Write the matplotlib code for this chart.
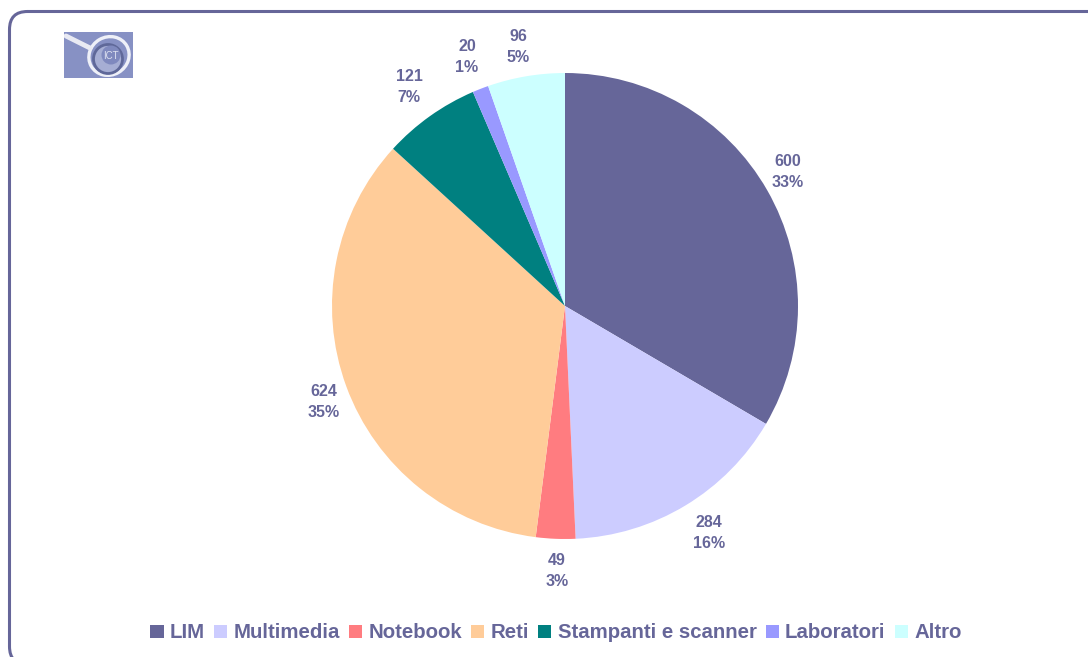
#!/usr/bin/env python3
import matplotlib

matplotlib.use("Agg")
import matplotlib.pyplot as plt
from matplotlib.patches import Ellipse, FancyBboxPatch, Rectangle

categories = ["LIM", "Multimedia", "Notebook", "Reti", "Stampanti e scanner", "Laboratori", "Altro"]
values = [600, 284, 49, 624, 121, 20, 96]
percents = ["33%", "16%", "3%", "35%", "7%", "1%", "5%"]
colors = ["#666699", "#CCCCFF", "#FF7C80", "#FFCC99", "#008080", "#9999FF", "#CCFFFF"]

W, H = 1088, 657
TEXT = "#666699"
# label centres in pixels of the image
label_xy = [(788, 172), (709, 533), (557, 571), (324, 402), (409, 87), (467, 57), (518, 47)]

plt.rcParams["font.family"] = ["Liberation Sans", "DejaVu Sans"]
plt.rcParams["font.weight"] = "bold"

fig = plt.figure(figsize=(W / 100, H / 100), dpi=100)

# whole figure in pixel coords, for the frame and the labels
bg = fig.add_axes([0, 0, 1, 1])
bg.set_xlim(0, W)
bg.set_ylim(H, 0)
bg.axis("off")
bg.add_patch(FancyBboxPatch((9.5, 11.5), 1200, 653, boxstyle="round,pad=0,rounding_size=18",
                            fc="white", ec=TEXT, lw=2.2, clip_on=True))

# pie
cx, cy, r = 565, 306, 233
ax = fig.add_axes([(cx - r) / W, 1 - (cy + r) / H, 2 * r / W, 2 * r / H])
wedges, _ = ax.pie(values, colors=colors, startangle=90, counterclock=False, radius=1)
ax.set_xlim(-1, 1)
ax.set_ylim(-1, 1)

top = fig.add_axes([0, 0, 1, 1])
top.set_xlim(0, W)
top.set_ylim(H, 0)
top.axis("off")
top.patch.set_alpha(0)
for v, p, (x, y) in zip(values, percents, label_xy):
    top.text(x, y, f"{v}\n{p}", ha="center", va="center", color=TEXT, fontsize=11.5, linespacing=1.5)

# logo
logo = fig.add_axes([64 / W, 1 - 78 / H, 69 / W, 46 / H])
logo.set_xlim(64, 133)
logo.set_ylim(78, 32)
logo.axis("off")
logo.add_patch(Rectangle((64, 32), 69, 46, fc="#8791C4", ec="none"))
logo.plot([66, 90], [36, 48], color="#E9EAF3", lw=3.5, solid_capstyle="round")
logo.add_patch(Ellipse((109, 56), 41, 38, angle=-30, fc="#8791C4", ec="#EEF0F8", lw=2.4))
logo.add_patch(Ellipse((108, 59), 29, 29, fc="#A6AED4", ec="#5F6899", lw=2.0))
logo.add_patch(Ellipse((111, 55), 19, 19, fc="#7F89BE", ec="none"))
logo.text(111, 56, "ICT", ha="center", va="center", fontsize=7, color="#DDE0F0", fontweight="normal")

handles = [Rectangle((0, 0), 1, 1, fc=c, ec="none") for c in colors]
fig.legend(handles, categories, loc="center", bbox_to_anchor=(556 / W, 1 - 633 / H), ncol=7, frameon=False,
           fontsize=14.7, labelcolor=TEXT, handlelength=0.64, handleheight=0.65, handletextpad=0.3,
           columnspacing=0.46, borderpad=0)

fig.savefig("out.png", dpi=100)
